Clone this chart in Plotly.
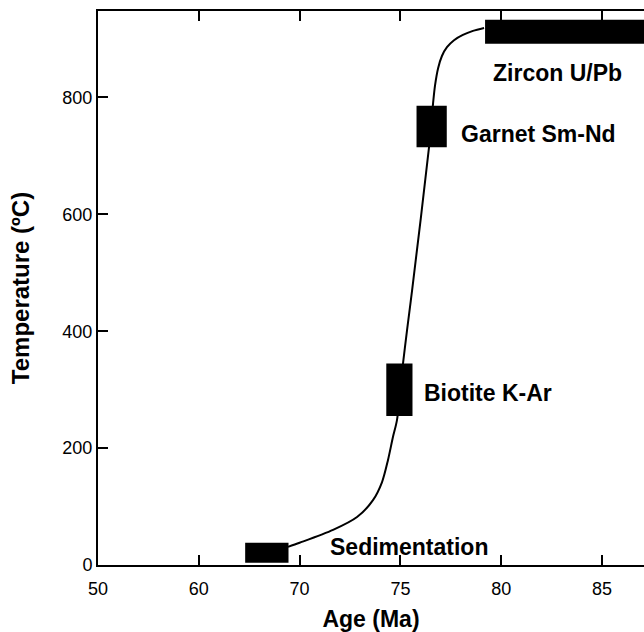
import plotly.graph_objects as go

# ---- data ----
curve_age = [68.85, 70.0, 71.66, 72.85, 73.64, 74.09, 74.38, 74.63, 74.83, 75.13, 75.33, 75.58,
             76.42, 76.62, 76.72, 76.87, 77.06, 77.31, 77.66, 78.10, 78.60, 79.15]
curve_temp = [31, 38, 60, 82, 111, 142, 179, 219, 248, 345, 402, 470,
              715, 790, 821, 850, 871, 886, 898, 907, 914, 919]

box_names = ["Sedimentation", "Biotite K-Ar", "Garnet Sm-Nd", "Zircon U/Pb"]
box_age_min = [64.6, 74.3, 75.8, 79.2]
box_age_max = [68.9, 75.6, 77.3, 92.0]
box_temp_min = [4, 255, 715, 892]
box_temp_max = [38, 345, 786, 933]

label_text = ["Sedimentation", "Biotite K-Ar", "Garnet Sm-Nd", "Zircon U/Pb"]
label_age = [71.40, 76.05, 77.90, 82.77]
label_temp = [31, 294, 737, 842]

x_tick_ages = [50, 60, 70, 75, 80, 85]
y_tick_vals = [0, 200, 400, 600, 800]


# the original age axis is piecewise: 10 Ma per tick up to 70, then 5 Ma per tick
def to_axis(age):
    if age <= 70:
        return (age - 50) / 10.0
    return 2.0 + (age - 70) / 5.0


FONT = "Liberation Sans, Arial, Helvetica, sans-serif"

fig = go.Figure()

# boxes (age/temperature ranges)
for a0, a1, t0, t1, nm in zip(box_age_min, box_age_max, box_temp_min, box_temp_max, box_names):
    x0, x1 = to_axis(a0), to_axis(a1)
    fig.add_trace(go.Scatter(
        x=[x0, x1, x1, x0, x0], y=[t0, t0, t1, t1, t0],
        mode="lines", fill="toself", fillcolor="black",
        line=dict(color="black", width=0), name=nm, showlegend=False, hoverinfo="skip"))

# T-t path
fig.add_trace(go.Scatter(
    x=[to_axis(a) for a in curve_age], y=curve_temp,
    mode="lines", line=dict(color="black", width=2, shape="spline", smoothing=0.8),
    showlegend=False, hoverinfo="skip"))

# invisible trace on the top axis to keep it active
fig.add_trace(go.Scatter(x=[to_axis(x_tick_ages[0])], y=[0], xaxis="x2", mode="markers",
                         marker=dict(opacity=0), showlegend=False, hoverinfo="skip"))

for txt, a, t in zip(label_text, label_age, label_temp):
    anchor = "center" if txt == "Zircon U/Pb" else "left"
    fig.add_annotation(x=to_axis(a), y=t, text=txt, showarrow=False, xanchor=anchor, yanchor="middle",
                       font=dict(family=FONT, size=23, color="black", weight="bold"))

x_range = [0, 5.4167]
tickvals = [to_axis(a) for a in x_tick_ages]
ticktext = [str(a) for a in x_tick_ages]

fig.update_layout(
    width=644, height=632,
    margin=dict(l=98, r=0, t=11, b=67),
    paper_bgcolor="white", plot_bgcolor="white",
    xaxis=dict(range=x_range, tickvals=tickvals, ticktext=ticktext,
               showline=True, linecolor="black", linewidth=2,
               ticks="inside", ticklen=10, tickwidth=2, tickcolor="black",
               ticklabelstandoff=6,
               showgrid=False, zeroline=False,
               tickfont=dict(family=FONT, size=18, color="black"),
               title=dict(text="Age (Ma)", standoff=14,
                          font=dict(family=FONT, size=23, color="black", weight="bold"))),
    xaxis2=dict(range=x_range, tickvals=tickvals, overlaying="x", side="top",
                showline=True, linecolor="black", linewidth=2,
                ticks="inside", ticklen=10, tickwidth=2, tickcolor="black",
                showticklabels=False, showgrid=False, zeroline=False),
    yaxis=dict(range=[0, 948], tickvals=y_tick_vals,
               showline=True, linecolor="black", linewidth=2,
               ticks="inside", ticklen=10, tickwidth=2, tickcolor="black",
               showgrid=False, zeroline=False,
               tickfont=dict(family=FONT, size=18, color="black"),
               title=dict(text="Temperature (ºC)", standoff=26,
                          font=dict(family=FONT, size=24, color="black", weight="bold"))),
)

fig.write_html("out.html")
